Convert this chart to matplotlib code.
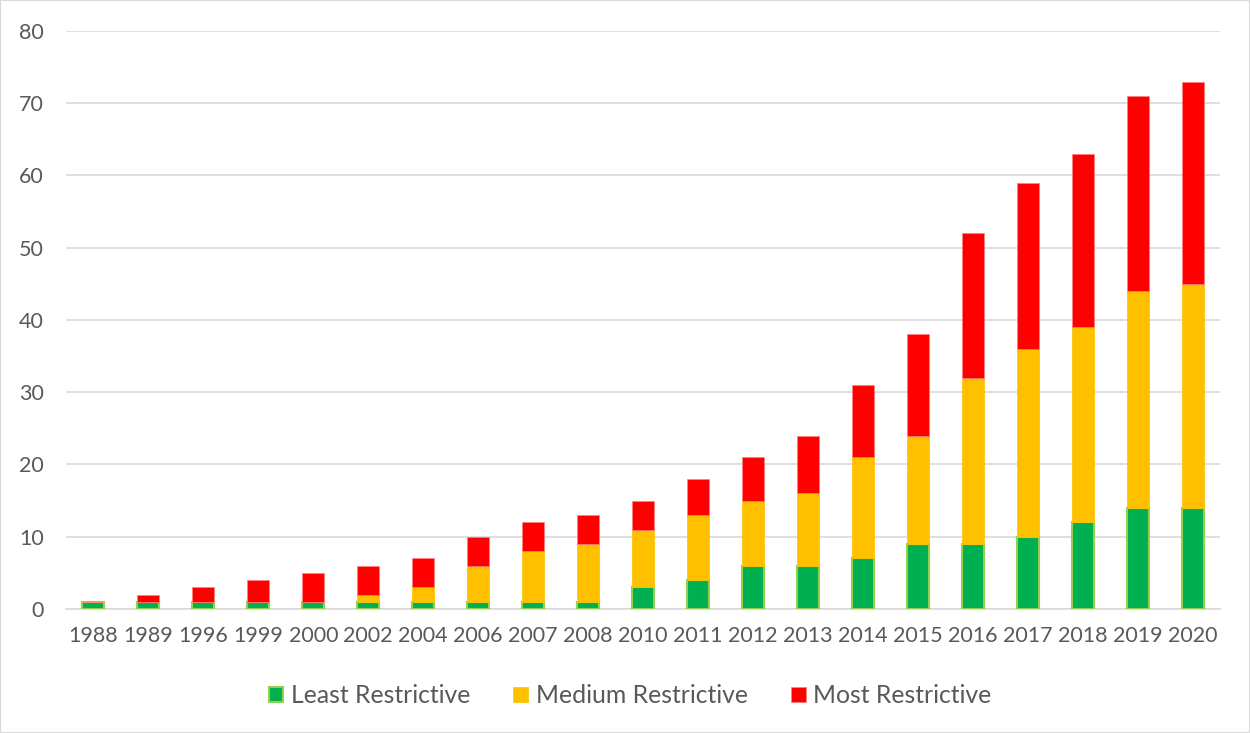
import numpy as np
import matplotlib
matplotlib.use('Agg')
import matplotlib.pyplot as plt

years = ['1988', '1989', '1996', '1999', '2000', '2002', '2004', '2006', '2007', '2008', '2010',
         '2011', '2012', '2013', '2014', '2015', '2016', '2017', '2018', '2019', '2020']
least = [1, 1, 1, 1, 1, 1, 1, 1, 1, 1, 3, 4, 6, 6, 7, 9, 9, 10, 12, 14, 14]
medium = [0, 0, 0, 0, 0, 1, 2, 5, 7, 8, 8, 9, 9, 10, 14, 15, 23, 26, 27, 30, 31]
most = [0, 1, 2, 3, 4, 4, 4, 4, 4, 4, 4, 5, 6, 8, 10, 14, 20, 23, 24, 27, 28]

plt.rcParams['font.family'] = ['Lato', 'DejaVu Sans']
txt = '#595959'

fig = plt.figure(figsize=(12.5, 7.33), dpi=100)
ax = fig.add_axes([0.0528, 0.1692, 0.9232, 0.7885])

x = np.arange(len(years))
least = np.array(least)
medium = np.array(medium)
most = np.array(most)
w = 0.4
ax.bar(x, least, w, color='#00B050', edgecolor='#92D050', linewidth=1.5, label='Least Restrictive', zorder=3)
ax.bar(x, medium, w, bottom=least, color='#FFC000', edgecolor='#FFC000', linewidth=0.5, label='Medium Restrictive', zorder=3)
ax.bar(x, most, w, bottom=least + medium, color='#FF0000', edgecolor='#FF7F7F', linewidth=0.5, label='Most Restrictive', zorder=3)

ax.set_xlim(-0.5, len(years) - 0.5)
ax.set_ylim(0, 80)
ax.set_yticks(range(0, 81, 10))
ax.set_xticks(x)
ax.set_xticklabels(years)
ax.grid(axis='y', color='#D9D9D9', linewidth=1.2, zorder=0)
for s in ['top', 'right', 'left']:
    ax.spines[s].set_visible(False)
ax.spines['bottom'].set_color('#D9D9D9')
ax.spines['bottom'].set_linewidth(1.2)
ax.tick_params(length=0, labelsize=15.5, colors=txt, pad=12)
ax.tick_params(axis='y', pad=16)

leg = fig.legend(loc='upper center', bbox_to_anchor=(0.504, 0.097), ncol=3, frameon=False,
                 fontsize=17.8, handlelength=0.6, handleheight=0.6, handletextpad=0.3, columnspacing=1.75)
for t in leg.get_texts():
    t.set_color(txt)

fig.patches.append(plt.Rectangle((0, 0), 1, 1, transform=fig.transFigure, fill=False,
                                 edgecolor='#D9D9D9', linewidth=1.5))
fig.savefig('out.png', dpi=100)
